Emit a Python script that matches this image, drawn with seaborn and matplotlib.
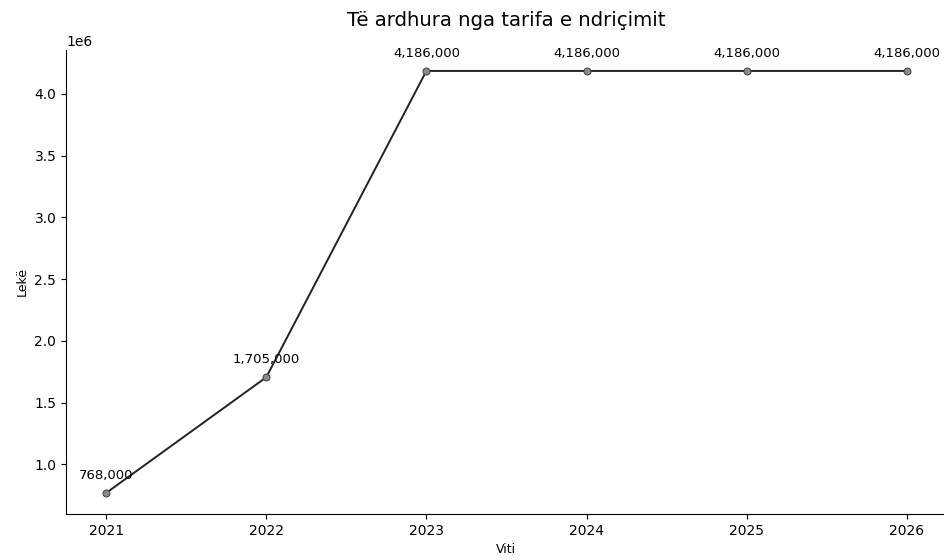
import pandas as pd
import seaborn as sns
import matplotlib
matplotlib.use('Agg')
import matplotlib.pyplot as plt

years = [2021, 2022, 2023, 2024, 2025, 2026]
revenue = [768000, 1705000, 4186000, 4186000, 4186000, 4186000]

df = pd.DataFrame({'Viti': years, 'Lekë': revenue})

fig, ax = plt.subplots(figsize=(9.44, 5.6), dpi=100)
fig.subplots_adjust(left=0.07, right=1.003, bottom=0.082, top=0.911)

sns.lineplot(x='Viti', y='Lekë', data=df, ax=ax, marker='o',
             color='#222222', linewidth=1.4, markersize=5,
             markerfacecolor='#8a8a8a', markeredgecolor='#444444')

for x, y in zip(years, revenue):
    ax.annotate(f'{y:,}', (x, y), textcoords='offset points', xytext=(0, 8),
                ha='center', va='bottom', fontsize=9.5)

ax.set_xticks(years)
ax.set_title('Të ardhura nga tarifa e ndriçimit', fontsize=14.2, pad=17)
ax.set_xlabel('Viti', fontsize=9)
ax.set_ylabel('Lekë', fontsize=9)
ax.tick_params(axis='both', labelsize=10)
sns.despine(ax=ax)

plt.savefig('out.png', dpi=100)
